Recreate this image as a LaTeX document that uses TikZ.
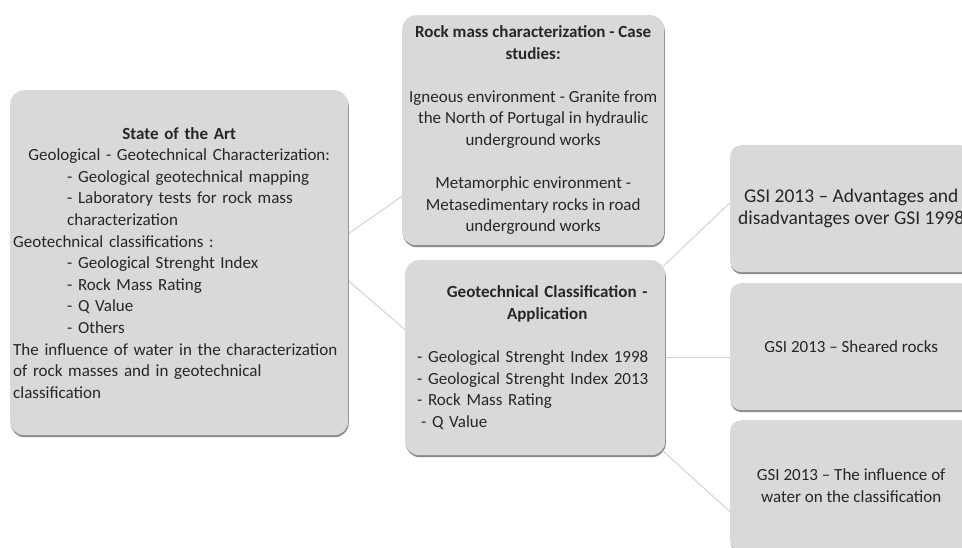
\documentclass[tikz,border=0pt]{standalone}
\usepackage{fontspec}
\setmainfont{Carlito}
\usetikzlibrary{shadows}
\definecolor{boxfill}{HTML}{D9D9D9}
\definecolor{boxshade}{HTML}{8A8A8A}
\definecolor{linkgray}{HTML}{D2D2D2}
\definecolor{ink}{HTML}{262626}
\pgfdeclarelayer{background}
\pgfsetlayers{background,main}
\tikzset{
  card/.style={fill=boxfill, draw=none, rounded corners=14pt, inner sep=0pt,
    text=ink, font=\fontsize{17}{21.6}\selectfont,
    drop shadow={shadow xshift=0.6pt, shadow yshift=-2pt, fill=boxshade, opacity=1}},
  leaf/.style={card, rounded corners=11pt, minimum width=242pt, minimum height=127pt,
    anchor=north west, align=center},
  link/.style={draw=linkgray, line width=1pt}
}
\begin{document}
\begin{tikzpicture}[x=1pt,y=-1pt]
\useasboundingbox (0,0) rectangle (962,547);
\clip (0,0) rectangle (962,547);

% left column: overview box
\node[card, anchor=north west, minimum width=338pt, minimum height=345pt,
      text width=332pt, align=left] (sota) at (10,90) {%
\makebox[332pt][c]{\bfseries State of the Art}\\
\makebox[332pt][c]{Geological - Geotechnical Characterization:}\\
\hspace*{54pt}- Geological geotechnical mapping\\
\hspace*{54pt}- Laboratory tests for rock mass\\
\hspace*{54pt}characterization\\
Geotechnical classifications :\\
\hspace*{54pt}- Geological Strenght Index\\
\hspace*{54pt}- Rock Mass Rating\\
\hspace*{54pt}- Q Value\\
\hspace*{54pt}- Others\\
The influence of water in the characterization\\
of rock masses and in geotechnical\\
classification};

% middle column
\node[card, anchor=north west, minimum width=262pt, minimum height=230pt,
      align=center] (rock) at (402,15) {%
\textbf{Rock mass characterization - Case}\\
\textbf{studies:}\\[21.6pt]
Igneous environment - Granite from\\
the North of Portugal in hydraulic\\
underground works\\[21.6pt]
Metamorphic environment -\\
Metasedimentary rocks in road\\
underground works};

\node[card, anchor=north west, minimum width=260pt, minimum height=195pt,
      text width=236pt, align=left] (app) at (405,260) {%
\makebox[236pt][c]{\hspace{24pt}\bfseries Geotechnical Classification -}\\
\makebox[236pt][c]{\hspace{24pt}\bfseries Application}\\[21.6pt]
- Geological Strenght Index 1998\\
- Geological Strenght Index 2013\\
- Rock Mass Rating\\
\hspace*{4pt}- Q Value};

% right column
\node[leaf, font=\fontsize{19.5}{22}\selectfont] (adv) at (730,145)
  {GSI 2013 -- Advantages and\\ disadvantages over GSI 1998};
\node[leaf] (shear) at (730,283) {GSI 2013 -- Sheared rocks};
\node[leaf, minimum height=131pt] (water) at (730,420)
  {GSI 2013 -- The influence of\\ water on the classification};

% connectors
\begin{pgfonlayer}{background}
\draw[link] ([yshift=29pt]sota.east) -- ([yshift=-66pt]rock.west);
\draw[link] ([yshift=-18pt]sota.east) -- ([yshift=28pt]app.west);
\draw[link] ([shift={(-2pt,-6pt)}]app.north east) -- ([yshift=6pt]adv.west);
\draw[link] (app.east) -- (app.east -| shear.west);
\draw[link] ([shift={(-2pt,4pt)}]app.south east) -- ([yshift=-26pt]water.west);
\end{pgfonlayer}
\end{tikzpicture}
\end{document}
